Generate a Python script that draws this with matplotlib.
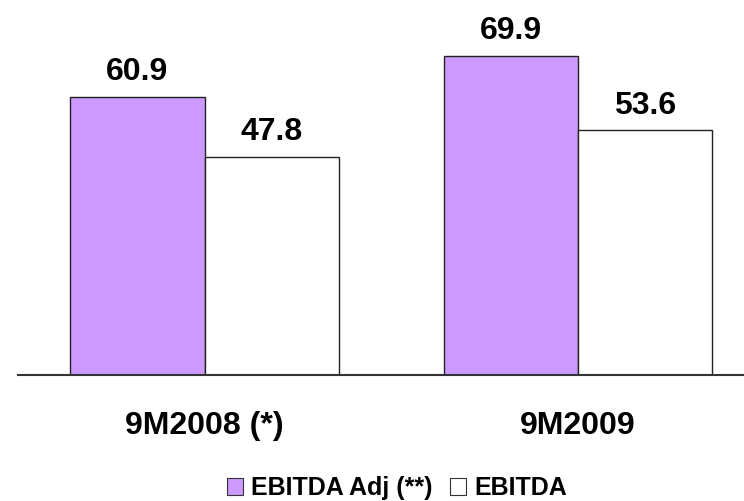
import matplotlib.pyplot as plt
import numpy as np
from matplotlib.patches import Patch

periods = ["9M2008 (*)", "9M2009"]
ebitda_adj = [60.9, 69.9]
ebitda = [47.8, 53.6]
series_names = ["EBITDA Adj (**)", "EBITDA"]

plt.rcParams['font.family'] = ['Liberation Sans', 'DejaVu Sans']

x = np.arange(len(periods))
width = 0.36

fig = plt.figure(figsize=(7.44, 5.01), dpi=100)
ax = fig.add_axes([18 / 744, 126 / 501, 726 / 744, 375 / 501])

bars_adj = ax.bar(x - width / 2, ebitda_adj, width, color='#CC99FF',
                  edgecolor='#222222', linewidth=1.0)
bars_plain = ax.bar(x + width / 2, ebitda, width, color='white',
                    edgecolor='#222222', linewidth=1.0)

for rects in (bars_adj, bars_plain):
    for rect in rects:
        h = rect.get_height()
        ax.annotate('{:.1f}'.format(h),
                    xy=(rect.get_x() + rect.get_width() / 2, h),
                    xytext=(0, 7), textcoords="offset points",
                    ha='center', va='bottom', fontsize=23, fontweight='bold')

ax.set_xlim(-0.5, 1.445)
ax.set_ylim(0, 82.2)
ax.set_yticks([])
ax.set_xticks(x)
ax.set_xticklabels(periods, fontsize=23, fontweight='bold')
ax.tick_params(axis='x', length=0, pad=26)
for side in ('top', 'right', 'left'):
    ax.spines[side].set_visible(False)
ax.spines['bottom'].set_color('#333333')
ax.spines['bottom'].set_linewidth(1.5)

handles = [Patch(facecolor='#CC99FF', edgecolor='#333333', linewidth=0.8),
           Patch(facecolor='white', edgecolor='#333333', linewidth=0.8)]
fig.legend(handles, series_names, loc='center', bbox_to_anchor=(397 / 744, 1 - 488 / 501),
           ncol=2, frameon=False, prop={'size': 18, 'weight': 'bold'},
           handlelength=0.65, handleheight=0.65, handletextpad=0.32, columnspacing=0.7,
           borderpad=0, borderaxespad=0)

fig.savefig('out.png', dpi=100)
